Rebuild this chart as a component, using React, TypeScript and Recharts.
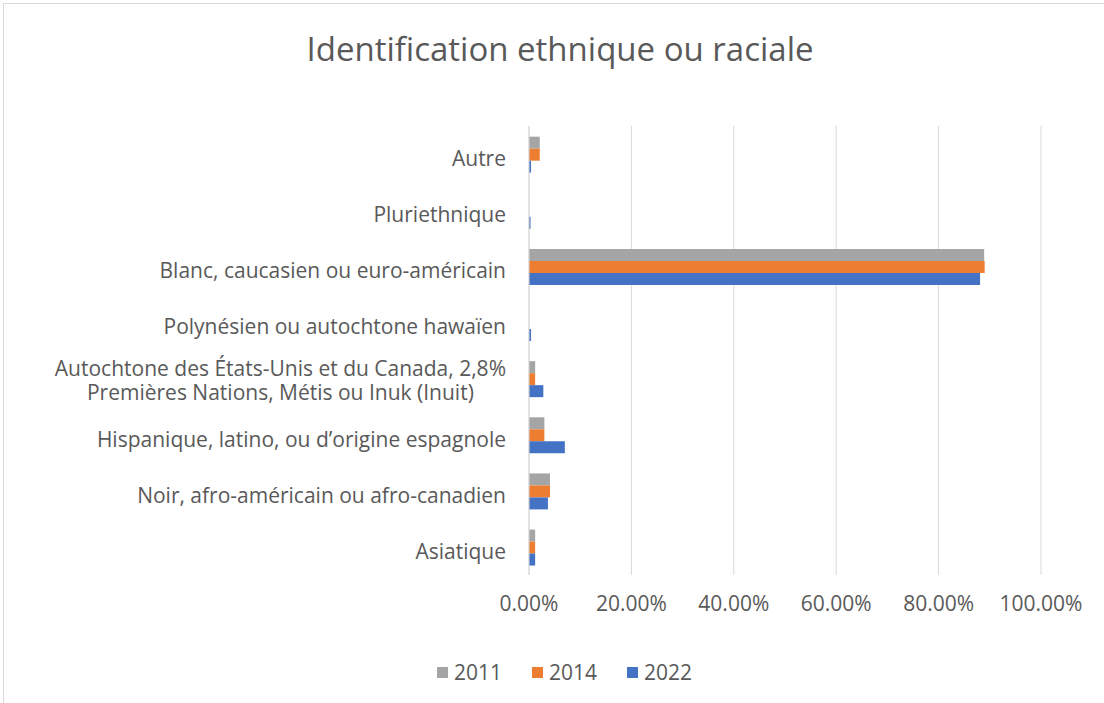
import React from 'react';
import { BarChart, Bar, XAxis, YAxis, CartesianGrid, Legend } from 'recharts';

const categories = [
  'Autre',
  'Pluriethnique',
  'Blanc, caucasien ou euro-américain',
  'Polynésien ou autochtone hawaïen',
  'Autochtone des États-Unis et du Canada, 2,8%\nPremières Nations, Métis ou Inuk (Inuit)',
  'Hispanique, latino, ou d’origine espagnole',
  'Noir, afro-américain ou afro-canadien',
  'Asiatique',
];
const v2011 = [2.1, 0, 88.9, 0, 1.2, 3.0, 4.1, 1.2];
const v2014 = [2.1, 0, 89.0, 0, 1.2, 3.0, 4.1, 1.2];
const v2022 = [0.4, 0.3, 88.1, 0.4, 2.8, 7.0, 3.7, 1.2];
const xTicks = [0, 20, 40, 60, 80, 100];
const seriesNames = ['2011', '2014', '2022'];
const seriesColors = ['#a5a5a5', '#ed7d31', '#4472c4'];

const data = categories.map((name, i) => ({
  name,
  y2011: v2011[i],
  y2014: v2014[i],
  y2022: v2022[i],
}));

const FONT = '"Open Sans", sans-serif';
const TEXT = '#595959';
const LABEL_SIZE = 21;

function measure(text: string, size: number) {
  const c = document.createElement('canvas').getContext('2d');
  if (!c) return text.length * size * 0.5;
  c.font = `${size}px "Open Sans"`;
  return c.measureText(text).width;
}

const CategoryTick = (props: any) => {
  const { x, y, payload } = props;
  const lines: string[] = String(payload.value).split('\n');
  if (lines.length === 1) {
    return (
      <text x={x} y={y} dy={12} textAnchor="end" fontSize={LABEL_SIZE} fontFamily={FONT} fill={TEXT}>
        {lines[0]}
      </text>
    );
  }
  // two-line label: centred block, right edge on the tick
  const w = Math.max(...lines.map((l) => measure(l, LABEL_SIZE)));
  const cx = x - w / 2;
  return (
    <text x={cx} y={y} textAnchor="middle" fontSize={LABEL_SIZE} fontFamily={FONT} fill={TEXT}>
      {lines.map((l, i) => (
        <tspan key={i} x={cx} dy={i === 0 ? -3 : 24}>
          {l}
        </tspan>
      ))}
    </text>
  );
};

const LegendBox = () => (
  <div style={{ width: 1100, height: 30, display: 'flex', paddingLeft: 433, boxSizing: 'border-box' }}>
    {seriesNames.map((n, i) => (
      <div key={n} style={{ width: 95, display: 'flex', alignItems: 'center', height: 30 }}>
        <span style={{ width: 11, height: 11, background: seriesColors[i], marginRight: 6 }} />
        <span style={{ fontSize: 21, color: TEXT, fontFamily: FONT }}>{n}</span>
      </div>
    ))}
  </div>
);

export default function App() {
  return (
    <div
      style={{
        position: 'fixed',
        left: 3,
        top: 3,
        width: 1110,
        height: 712,
        border: '1px solid #d9d9d9',
        background: '#fff',
        fontFamily: FONT,
      }}
    >
      <div
        style={{
          position: 'absolute',
          left: 0,
          width: 1112,
          top: 24,
          textAlign: 'center',
          fontSize: 33,
          color: TEXT,
          lineHeight: '42px',
        }}
      >
        Identification ethnique ou raciale
      </div>
      <BarChart
        width={1100}
        height={700}
        data={data}
        layout="vertical"
        margin={{ top: 122, right: 63, bottom: 17, left: 0 }}
        barCategoryGap="19%"
        barGap={0}
      >
        <CartesianGrid horizontal={false} stroke="#d9d9d9" />
        <XAxis
          type="number"
          domain={[0, 100]}
          ticks={xTicks}
          tickFormatter={(v: number) => `${v.toFixed(2)}%`}
          axisLine={false}
          tickLine={false}
          tickSize={0}
          tickMargin={21}
          height={82}
          tick={{ fontSize: 21, fill: TEXT, fontFamily: FONT }}
        />
        <YAxis
          type="category"
          dataKey="name"
          width={525}
          axisLine={{ stroke: '#d9d9d9' }}
          tickLine={false}
          tickSize={0}
          tickMargin={23}
          interval={0}
          tick={<CategoryTick />}
        />
        <Legend verticalAlign="bottom" wrapperStyle={{ left: 0, width: 1100 }} content={<LegendBox />} />
        {seriesNames.map((n, i) => (
          <Bar key={n} dataKey={`y${n}`} name={n} fill={seriesColors[i]} isAnimationActive={false} />
        ))}
      </BarChart>
    </div>
  );
}
